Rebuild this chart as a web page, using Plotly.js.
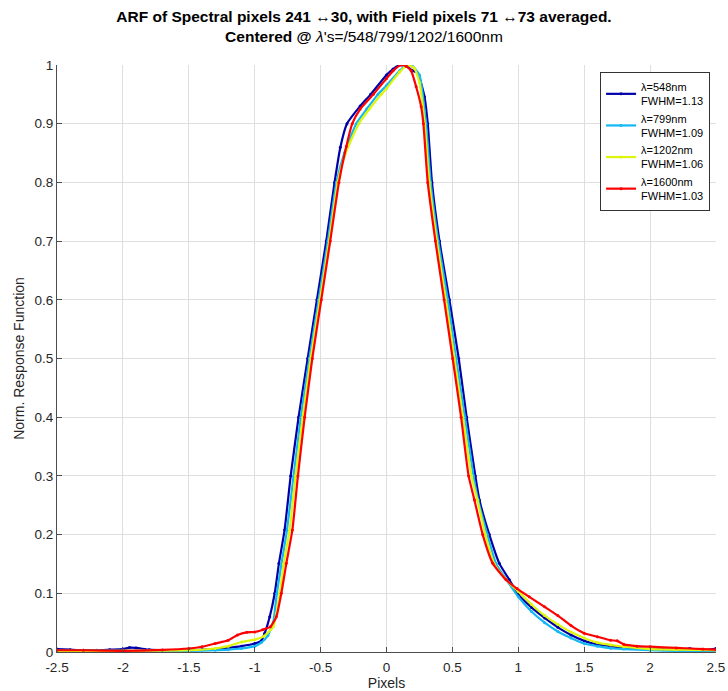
<!DOCTYPE html>
<html>
<head>
<meta charset="utf-8">
<script src="https://cdn.plot.ly/plotly-3.0.1.min.js"></script>
<style>html,body{margin:0;padding:0;background:#fff;}#chart{width:728px;height:691px;}</style>
</head>
<body>
<div id="chart"></div>
<script>
// Series names
const seriesNames = ["λ=548nm<br>FWHM=1.13", "λ=799nm<br>FWHM=1.09", "λ=1202nm<br>FWHM=1.06", "λ=1600nm<br>FWHM=1.03"];

// λ = 548 nm
const x548 = [-2.5,-2.4,-2.3,-2.2,-2.1,-2.0,-1.95,-1.9,-1.8,-1.7,-1.6,-1.5,-1.4,-1.3,-1.2,-1.1,-1.0,-0.95,-0.924,-0.886,-0.848,-0.816,-0.773,-0.727,-0.667,-0.598,-0.528,-0.457,-0.394,-0.35,-0.30,-0.2,-0.12,0.0,0.05,0.1,0.15,0.2,0.237,0.288,0.313,0.345,0.402,0.477,0.548,0.608,0.674,0.705,0.78,0.856,0.932,1.0,1.1,1.2,1.3,1.4,1.5,1.6,1.7,1.8,1.9,2.0,2.1,2.2,2.3,2.4,2.5];
const y548 = [0.005,0.004,0.003,0.003,0.004,0.005,0.0075,0.007,0.004,0.003,0.003,0.003,0.004,0.005,0.007,0.010,0.0145,0.019,0.032,0.060,0.100,0.151,0.208,0.300,0.400,0.500,0.600,0.700,0.800,0.860,0.900,0.930,0.950,0.983,0.993,1.0,0.998,0.99,0.986,0.946,0.900,0.800,0.700,0.600,0.500,0.400,0.300,0.259,0.200,0.151,0.123,0.098,0.076,0.058,0.042,0.029,0.019,0.013,0.010,0.0075,0.006,0.005,0.004,0.0035,0.006,0.003,0.006];

// λ = 799 nm
const x799 = [-2.5,-2.2,-2.0,-1.8,-1.5,-1.3,-1.2,-1.1,-1.0,-0.95,-0.9,-0.86,-0.832,-0.8,-0.755,-0.705,-0.65,-0.585,-0.515,-0.445,-0.38,-0.32,-0.23,-0.15,-0.065,0.0,0.1,0.15,0.2,0.25,0.30,0.335,0.392,0.465,0.528,0.595,0.66,0.695,0.765,0.83,0.91,1.0,1.1,1.2,1.3,1.4,1.5,1.6,1.7,1.8,2.0,2.2,2.5];
const y799 = [0.002,0.002,0.002,0.002,0.002,0.003,0.004,0.006,0.010,0.016,0.028,0.050,0.100,0.146,0.208,0.300,0.400,0.500,0.600,0.700,0.800,0.850,0.900,0.925,0.950,0.965,0.990,1.0,0.997,0.983,0.900,0.800,0.700,0.600,0.500,0.400,0.300,0.259,0.200,0.151,0.123,0.094,0.069,0.050,0.035,0.024,0.0145,0.010,0.0064,0.005,0.003,0.002,0.002];

// λ = 1202 nm
const x1202 = [-2.5,-2.0,-1.5,-1.3,-1.2,-1.1,-1.0,-0.93,-0.86,-0.81,-0.78,-0.735,-0.69,-0.635,-0.575,-0.505,-0.435,-0.37,-0.31,-0.21,-0.13,-0.04,0.0,0.1,0.16,0.21,0.25,0.29,0.325,0.382,0.45,0.515,0.58,0.645,0.69,0.75,0.815,0.9,1.0,1.1,1.2,1.3,1.4,1.5,1.6,1.7,1.8,2.0,2.2,2.5];
const y1202 = [0.002,0.002,0.003,0.006,0.010,0.017,0.021,0.027,0.043,0.100,0.150,0.208,0.300,0.400,0.500,0.600,0.700,0.800,0.850,0.900,0.925,0.950,0.960,0.988,1.0,0.995,0.970,0.900,0.800,0.700,0.600,0.500,0.400,0.300,0.259,0.200,0.151,0.125,0.103,0.081,0.062,0.047,0.034,0.024,0.016,0.012,0.009,0.005,0.004,0.003];

// λ = 1600 nm
const x1600 = [-2.5,-2.3,-2.0,-1.7,-1.5,-1.4,-1.3,-1.2,-1.13,-1.06,-1.0,-0.94,-0.881,-0.836,-0.798,-0.76,-0.714,-0.672,-0.621,-0.563,-0.495,-0.427,-0.361,-0.305,-0.26,-0.2,-0.1,0.0,0.05,0.111,0.15,0.187,0.225,0.263,0.28,0.313,0.371,0.437,0.502,0.566,0.623,0.667,0.73,0.806,0.907,0.99,1.083,1.2,1.3,1.4,1.5,1.6,1.7,1.75,1.8,1.9,2.0,2.2,2.4,2.5];
const y1600 = [0.003,0.003,0.002,0.0035,0.006,0.009,0.0145,0.020,0.029,0.0335,0.034,0.038,0.043,0.060,0.100,0.151,0.208,0.300,0.400,0.500,0.600,0.700,0.800,0.861,0.900,0.925,0.950,0.977,0.990,1.0,0.998,0.990,0.963,0.929,0.900,0.800,0.700,0.600,0.500,0.400,0.300,0.259,0.200,0.151,0.123,0.108,0.094,0.077,0.062,0.045,0.032,0.026,0.020,0.019,0.013,0.010,0.009,0.007,0.005,0.004];

// Tick labels
const xTickVals = [-2.5,-2,-1.5,-1,-0.5,0,0.5,1,1.5,2,2.5];
const xTickText = ["-2.5","-2","-1.5","-1","-0.5","0","0.5","1","1.5","2","2.5"];
const yTickVals = [0,0.1,0.2,0.3,0.4,0.5,0.6,0.7,0.8,0.9,1];
const yTickText = ["0","0.1","0.2","0.3","0.4","0.5","0.6","0.7","0.8","0.9","1"];

const colors = ["#0000A8", "#12B8F5", "#DDF50A", "#FF0000"];
const xs = [x548, x799, x1202, x1600];
const ys = [y548, y799, y1202, y1600];

const traces = xs.map((x, i) => ({
  x: x, y: ys[i], name: seriesNames[i], type: 'scatter', mode: 'lines+markers',
  line: {color: colors[i], width: 2.2, shape: 'spline', smoothing: 0.5},
  marker: {color: colors[i], size: 3}
}));

const layout = {
  width: 728, height: 691,
  paper_bgcolor: '#ffffff', plot_bgcolor: '#ffffff',
  margin: {l: 57, r: 12, t: 65, b: 39},
  font: {family: 'Liberation Sans, Arial, sans-serif', color: '#262626', size: 13},
  title: {
    text: "<b>ARF of Spectral pixels 241</b> ↔<b>30, with Field pixels 71</b> ↔<b>73 averaged.</b><br><b>Centered @ </b><i>λ</i>'s=/548/799/1202/1600nm",
    font: {size: 15.5, color: '#000000'}, x: 0.5, xanchor: 'center', xref: 'container',
    y: 0.968, yanchor: 'top', yref: 'container'
  },
  xaxis: {
    range: [-2.5, 2.5], tickvals: xTickVals, ticktext: xTickText,
    showgrid: true, gridcolor: '#dfdfdf', gridwidth: 1, zeroline: false,
    showline: true, linecolor: '#4d4d4d', linewidth: 1,
    ticks: 'inside', ticklen: 5, tickcolor: '#4d4d4d', ticklabelstandoff: 3,
    tickfont: {size: 13.5, color: '#262626'},
    title: {text: 'Pixels', font: {size: 14, color: '#262626'}, standoff: 7}
  },
  yaxis: {
    range: [0, 1], tickvals: yTickVals, ticktext: yTickText,
    showgrid: true, gridcolor: '#dfdfdf', gridwidth: 1, zeroline: false,
    showline: true, linecolor: '#4d4d4d', linewidth: 1,
    ticks: 'inside', ticklen: 5, tickcolor: '#4d4d4d',
    tickfont: {size: 13.5, color: '#262626'},
    title: {text: 'Norm. Response Function', font: {size: 14, color: '#262626'}, standoff: 6}
  },
  legend: {
    x: 0.991, y: 0.988, xanchor: 'right', yanchor: 'top',
    bgcolor: '#ffffff', bordercolor: '#333333', borderwidth: 1,
    font: {size: 11, color: '#000000'}, tracegroupgap: 0, itemwidth: 30
  },
  showlegend: true
};

Plotly.newPlot('chart', traces, layout, {displayModeBar: false, staticPlot: true});
</script>
</body>
</html>
